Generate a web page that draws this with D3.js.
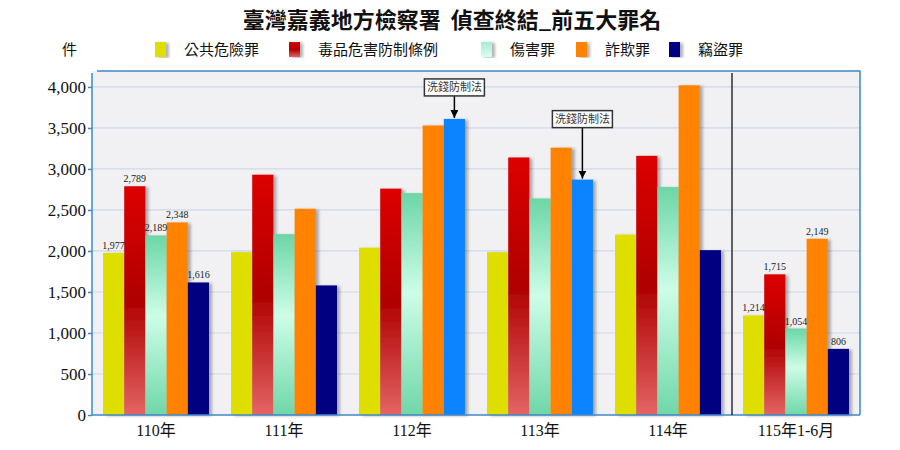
<!DOCTYPE html>
<html>
<head>
<meta charset="utf-8">
<script src="https://cdn.jsdelivr.net/npm/d3@7"></script>
<style>
  body { margin: 0; background: #fff; }
  svg { display: block; }
</style>
</head>
<body>
<svg id="chart" width="900" height="450"></svg>
<script>
const title = "臺灣嘉義地方檢察署  偵查終結_前五大罪名";
const unitLabel = "件";
const years = ["110年", "111年", "112年", "113年", "114年", "115年1-6月"];
const seriesNames = ["公共危險罪", "毒品危害防制條例", "傷害罪", "詐欺罪", "竊盜罪"];
const publicDanger = [1977, 1985, 2040, 1985, 2200, 1214];
const drugs = [2789, 2930, 2760, 3140, 3160, 1715];
const injury = [2189, 2205, 2705, 2640, 2780, 1054];
const fraud = [2348, 2515, 3530, 3260, 4020, 2149];
const theft = [1616, 1580, 3610, 2870, 2010, 806];
const yTicks = [0, 500, 1000, 1500, 2000, 2500, 3000, 3500, 4000];
const labelledYears = ["110年", "115年1-6月"];
// 5th slot in these years is the money laundering count, not theft
const notes = [
  { year: "112年", text: "洗錢防制法" },
  { year: "113年", text: "洗錢防制法" },
];

const seriesValues = [publicDanger, drugs, injury, fraud, theft];
const fills = ["#dede00", "url(#gRed)", "url(#gGreen)", "#ff8200", "#000080"];
const legendFills = ["#dede00", "url(#gRedL)", "url(#gGreenL)", "#ff8200", "#000080"];
const noteColor = "#0a84ff";
const noteLift = { "112年": 40, "113年": 69 };

const margin = { top: 73, right: 40, bottom: 35, left: 92 };
const width = 900, height = 450;

const svg = d3.select("#chart");
const defs = svg.append("defs");

function vGrad(id, stops) {
  const g = defs.append("linearGradient").attr("id", id)
    .attr("x1", 0).attr("y1", 0).attr("x2", 0).attr("y2", 1);
  stops.forEach(([o, c]) => g.append("stop").attr("offset", o).attr("stop-color", c));
}
vGrad("gRed", [[0, "#dd0000"], [0.5, "#b00000"], [1, "#e46464"]]);
vGrad("gGreen", [[0, "#6bd6a6"], [0.45, "#cdfde7"], [1, "#6fd7a8"]]);
vGrad("gRedL", [[0, "#dd0000"], [0.5, "#b00000"], [1, "#e46464"]]);
vGrad("gGreenL", [[0, "#a8ecd0"], [1, "#d8fff0"]]);

const shadow = defs.append("filter").attr("id", "shadow")
  .attr("x", "-20%").attr("y", "-5%").attr("width", "160%").attr("height", "110%");
shadow.append("feDropShadow").attr("dx", 3).attr("dy", 1)
  .attr("stdDeviation", 1.5).attr("flood-color", "#000").attr("flood-opacity", 0.3);

const marker = defs.append("marker").attr("id", "arrow")
  .attr("viewBox", "0 0 10 10").attr("refX", 10).attr("refY", 5)
  .attr("markerWidth", 8).attr("markerHeight", 8).attr("orient", "auto")
  .attr("markerUnits", "userSpaceOnUse");
marker.append("path").attr("d", "M0,0 L10,5 L0,10 z").attr("fill", "#000");

const x0 = d3.scaleBand().domain(years)
  .range([margin.left, width - margin.right])
  .paddingInner(0.172).paddingOuter(0.086);
const x1 = d3.scaleBand().domain(d3.range(seriesNames.length))
  .range([0, x0.bandwidth()]);
const y = d3.scaleLinear().domain([0, 4170])
  .range([height - margin.bottom, margin.top]);

const plotL = margin.left, plotR = width - margin.right;
const plotT = margin.top, plotB = height - margin.bottom;

// plot background
svg.append("rect").attr("x", plotL).attr("y", plotT - 2)
  .attr("width", plotR - plotL).attr("height", plotB - plotT + 2)
  .attr("fill", "#f1f1f3");

// grid
svg.append("g").selectAll("line").data(yTicks.filter((d) => d > 0)).join("line")
  .attr("x1", plotL).attr("x2", plotR)
  .attr("y1", (d) => y(d)).attr("y2", (d) => y(d))
  .attr("stroke", "#cdd8e8").attr("stroke-width", 1.2);

// frame (top & right)
svg.append("path")
  .attr("d", `M${plotL + 5},${plotT - 2} H${plotR} V${plotB}`)
  .attr("fill", "none").attr("stroke", "#3d88c8").attr("stroke-width", 1.5);

// bars
const groups = svg.append("g").selectAll("g").data(years).join("g")
  .attr("transform", (d) => `translate(${x0(d)},0)`);

groups.selectAll("rect")
  .data((yr, gi) => seriesValues.map((vals, si) => ({ yr, si, v: vals[gi] })))
  .join("rect")
  .attr("x", (d) => x1(d.si))
  .attr("y", (d) => y(d.v))
  .attr("width", x1.bandwidth())
  .attr("height", (d) => y(0) - y(d.v))
  .attr("fill", (d) =>
    d.si === 4 && notes.some((n) => n.year === d.yr) ? noteColor : fills[d.si])
  .attr("filter", "url(#shadow)");

// value labels
groups.filter((d) => labelledYears.includes(d)).selectAll("text")
  .data((yr) => {
    const idx = years.indexOf(yr);
    return seriesValues.map((vals, si) => ({ si, v: vals[idx] }));
  })
  .join("text")
  .attr("x", (d) => x1(d.si) + x1.bandwidth() / 2)
  .attr("y", (d) => y(d.v) - 4)
  .attr("text-anchor", "middle")
  .attr("font-family", "'Liberation Serif', serif")
  .attr("font-size", 10)
  .attr("fill", "#222")
  .text((d) => d3.format(",")(d.v));

// y axis
const yAxis = svg.append("g").attr("transform", `translate(${plotL},0)`)
  .attr("font-family", "'Liberation Serif', serif")
  .call(d3.axisLeft(y).tickValues(yTicks).tickFormat(d3.format(",")).tickSize(4));
yAxis.attr("font-family", "'Liberation Serif', serif").attr("font-size", 17);
yAxis.select(".domain").attr("stroke", "#3d88c8").attr("stroke-width", 1.5)
  .attr("d", `M0,${plotT} V${plotB}`);
yAxis.selectAll(".tick line").attr("stroke", "#3d88c8").attr("stroke-width", 1.5);
yAxis.selectAll(".tick text").attr("fill", "#111").attr("x", -6);

// x axis
const xAxis = svg.append("g").attr("transform", `translate(0,${plotB})`)
  .call(d3.axisBottom(x0).tickSize(0).tickPadding(10));
xAxis.attr("font-family", "'Liberation Serif', 'Noto Sans CJK TC', serif").attr("font-size", 16);
xAxis.select(".domain").attr("stroke", "#3d88c8").attr("stroke-width", 1.5)
  .attr("d", `M${plotL},0 H${plotR}`);
xAxis.selectAll(".tick text").attr("fill", "#111");

// divider before the half-year group
const divX = (x0("114年") + x0.bandwidth() + x0("115年1-6月")) / 2;
svg.append("line").attr("x1", divX).attr("x2", divX)
  .attr("y1", plotT).attr("y2", plotB)
  .attr("stroke", "#111").attr("stroke-width", 1.3);

// annotations
notes.forEach((n) => {
  const gi = years.indexOf(n.year);
  const cx = x0(n.year) + x1(4) + x1.bandwidth() / 2;
  const top = y(theft[gi]);
  const boxW = 60, boxH = 17;
  const boxY = top - noteLift[n.year];
  svg.append("line").attr("x1", cx).attr("x2", cx)
    .attr("y1", boxY + boxH).attr("y2", top - 1)
    .attr("stroke", "#000").attr("stroke-width", 1.5)
    .attr("marker-end", "url(#arrow)");
  svg.append("rect").attr("x", cx - boxW / 2).attr("y", boxY)
    .attr("width", boxW).attr("height", boxH)
    .attr("fill", "#fff").attr("stroke", "#333").attr("stroke-width", 1.5);
  svg.append("text").attr("x", cx).attr("y", boxY + 12.5)
    .attr("text-anchor", "middle")
    .attr("font-family", "'Noto Sans CJK TC', sans-serif")
    .attr("font-size", 11).attr("fill", "#333")
    .text(n.text);
});

// title
svg.append("text").attr("x", 452).attr("y", 28)
  .attr("text-anchor", "middle")
  .style("white-space", "pre")
  .attr("font-family", "'Noto Sans CJK TC', sans-serif")
  .attr("font-weight", "bold").attr("font-size", 22).attr("fill", "#111")
  .text(title);

// unit
svg.append("text").attr("x", 62).attr("y", 55)
  .attr("font-family", "'Noto Sans CJK TC', sans-serif")
  .attr("font-size", 15).attr("fill", "#111")
  .text(unitLabel);

// legend
const legendX = [155, 289, 481, 576, 669];
const legend = svg.append("g").selectAll("g").data(seriesNames).join("g")
  .attr("transform", (d, i) => `translate(${legendX[i]},42)`);
legend.append("rect").attr("width", 11).attr("height", 15)
  .attr("fill", (d, i) => legendFills[i]).attr("filter", "url(#shadow)");
legend.append("text").attr("x", 29).attr("y", 13)
  .attr("font-family", "'Noto Sans CJK TC', sans-serif")
  .attr("font-size", 15).attr("fill", "#111")
  .text((d) => d);
</script>
</body>
</html>
